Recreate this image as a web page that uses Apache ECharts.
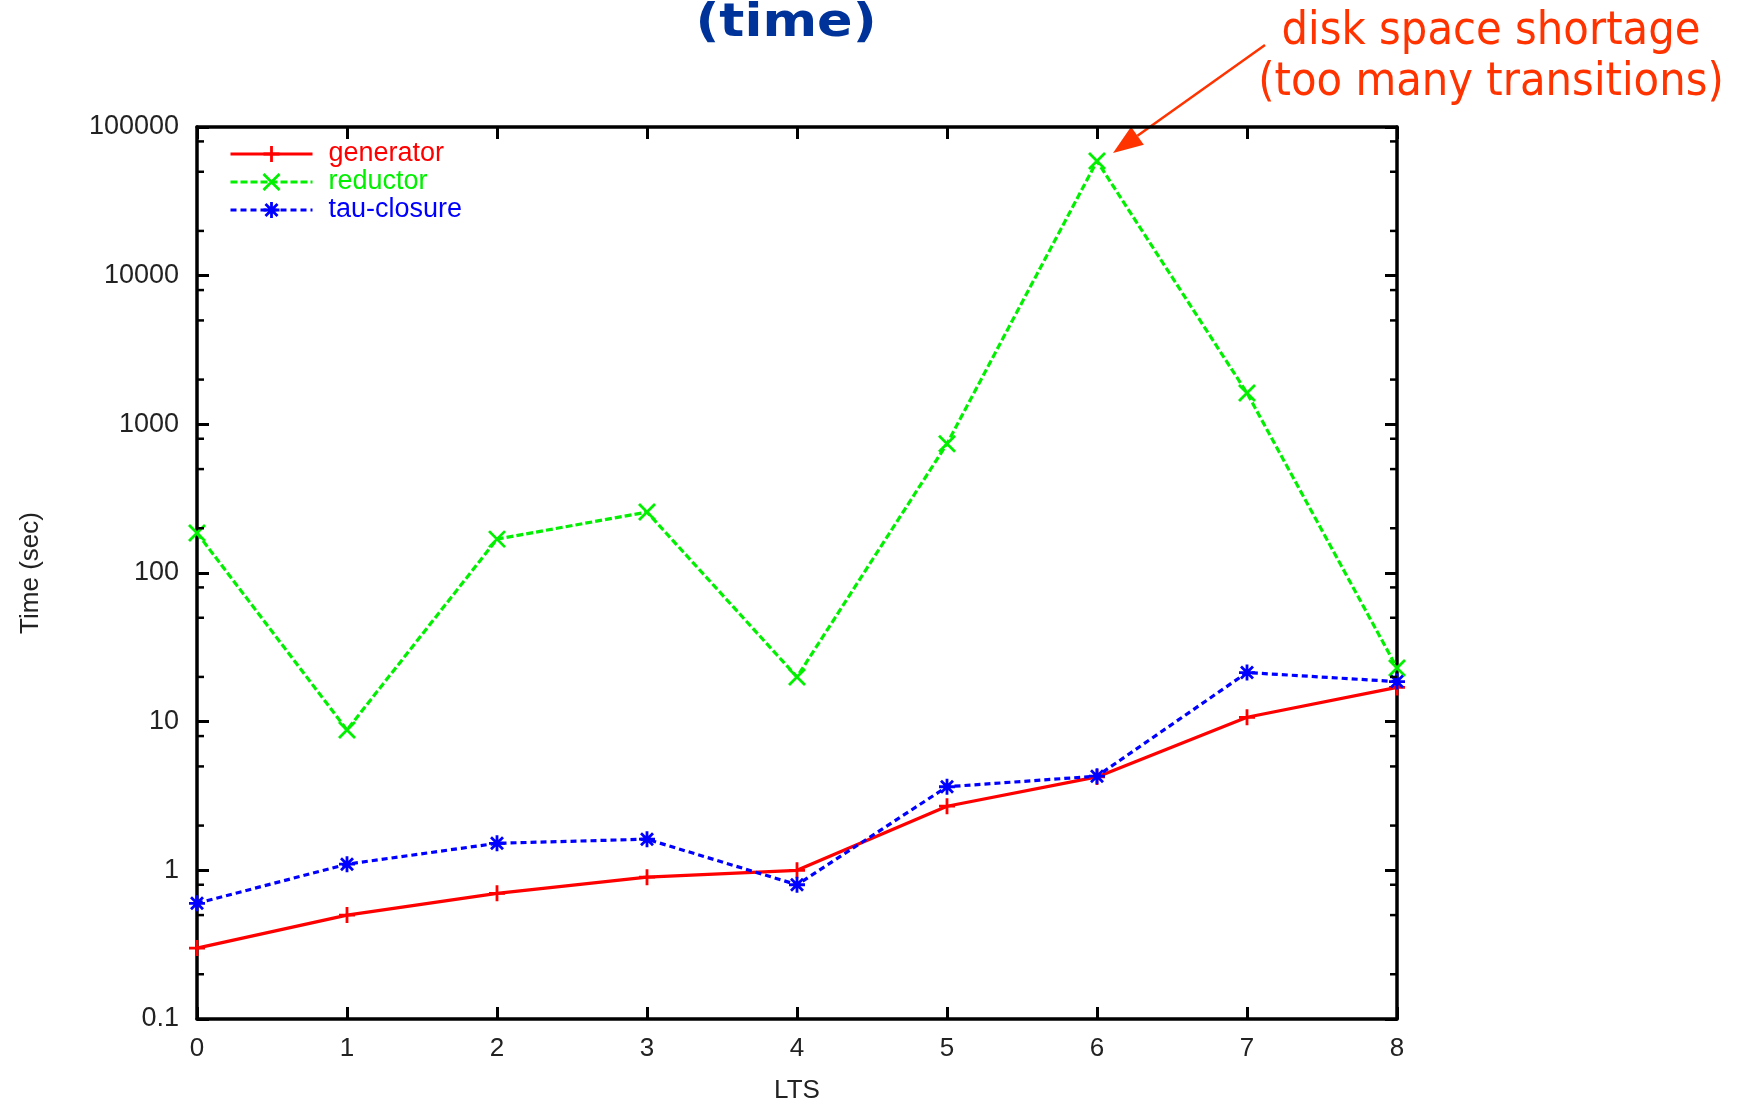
<!DOCTYPE html>
<html>
<head>
<meta charset="utf-8">
<script src="https://cdn.jsdelivr.net/npm/echarts/dist/echarts.min.js"></script>
<style>
  html, body { margin: 0; padding: 0; background: #ffffff; }
  #chart { width: 1748px; height: 1104px; }
</style>
</head>
<body>
<div id="chart"></div>
<script>
// LTS index on the x axis
const ltsValues = [0, 1, 2, 3, 4, 5, 6, 7, 8];
const xTickLabels = ['0', '1', '2', '3', '4', '5', '6', '7', '8'];

// Running times in seconds
const generatorTimes  = [0.3, 0.5, 0.7, 0.9, 1.0, 2.7, 4.25, 10.7, 17];
const reductorTimes   = [186, 8.8, 169, 257, 20, 740, 59000, 1625, 23];
const tauClosureTimes = [0.6, 1.1, 1.52, 1.62, 0.8, 3.65, 4.3, 21.4, 18.6];

// Log axis decades and the minor tick marks inside each decade
const yTickLabels = ['0.1', '1', '10', '100', '1000', '10000', '100000'];
const minorTickValues = [0.2, 0.5, 0.8, 2, 5, 8, 20, 50, 80, 200, 500, 800,
                         2000, 5000, 8000, 20000, 50000, 80000];

const seriesNames = ['generator', 'reductor', 'tau-closure'];
const seriesColors = ['#ff0000', '#00f000', '#0000ff'];

const plusSymbol = 'path://M0,6L12,6M6,0L6,12';
const crossSymbol = 'path://M0,0L12,12M12,0L0,12';
const starSymbol = 'path://M0,6L12,6M6,0L6,12M1.5,1.5L10.5,10.5M10.5,1.5L1.5,10.5';

const labelFont = 'Liberation Sans, Arial, sans-serif';
const xMin = ltsValues[0];
const xMax = ltsValues[ltsValues.length - 1];

function pairs(values) {
  return ltsValues.map((x, i) => [x, values[i]]);
}

function lineSeries(name, values, color, symbol, dash) {
  return {
    name: name,
    type: 'line',
    data: pairs(values),
    symbol: symbol,
    symbolSize: 16,
    showAllSymbol: true,
    lineStyle: { color: color, width: 3.2, type: dash },
    itemStyle: { color: color, borderColor: color, borderWidth: 2.8 },
    emphasis: { disabled: true },
    animation: false,
    z: 3
  };
}

const axisLineX = { show: true, lineStyle: { color: '#000', width: 3.5 } };
const axisLineY = { show: true, onZero: false, lineStyle: { color: '#000', width: 3.5 } };
const majorTick = { show: true, inside: true, length: 12, lineStyle: { color: '#000', width: 3 } };

const chart = echarts.init(document.getElementById('chart'), null, { renderer: 'canvas' });

const option = {
  backgroundColor: '#ffffff',
  animation: false,
  grid: { left: 197, right: 351, top: 127, bottom: 85, containLabel: false, outerBoundsMode: 'none' },
  legend: {
    orient: 'vertical',
    left: 229,
    top: 140,
    padding: 0,
    itemWidth: 82,
    itemHeight: 20,
    itemGap: 0,
    selectedMode: false,
    lineStyle: { width: 3 },
    itemStyle: { borderWidth: 2.8 },
    textStyle: { fontFamily: labelFont, fontSize: 27, lineHeight: 28, padding: [0, 0, 0, 11] },
    data: seriesNames.map((n, i) => ({ name: n, textStyle: { color: seriesColors[i] } }))
  },
  xAxis: [
    {
      type: 'value', min: xMin, max: xMax, interval: 1, position: 'bottom',
      name: 'LTS', nameLocation: 'middle', nameGap: 59,
      nameTextStyle: { fontFamily: labelFont, fontSize: 26, color: '#222' },
      axisLine: axisLineX, axisTick: majorTick, splitLine: { show: false },
      axisLabel: {
        margin: 17, fontFamily: labelFont, fontSize: 26, color: '#222',
        formatter: v => xTickLabels[Math.round(v - xMin)]
      }
    },
    {
      type: 'value', min: xMin, max: xMax, interval: 1, position: 'top',
      axisLine: axisLineX, axisTick: majorTick, splitLine: { show: false },
      axisLabel: { show: false }
    }
  ],
  yAxis: [
    {
      type: 'log', logBase: 10, min: 0.1, max: 100000, interval: 1, position: 'left',
      name: 'Time (sec)', nameLocation: 'middle', nameGap: 153,
      nameTextStyle: { fontFamily: labelFont, fontSize: 26, color: '#222' },
      axisLine: axisLineY, axisTick: majorTick, splitLine: { show: false },
      axisLabel: {
        margin: 18, fontFamily: labelFont, fontSize: 27, color: '#222',
        formatter: v => yTickLabels[Math.round(Math.log10(v)) + 1]
      }
    },
    {
      type: 'log', logBase: 10, min: 0.1, max: 100000, interval: 1, position: 'right',
      axisLine: axisLineY, axisTick: majorTick, splitLine: { show: false },
      axisLabel: { show: false }
    }
  ],
  series: [
    lineSeries(seriesNames[0], generatorTimes, seriesColors[0], plusSymbol, 'solid'),
    lineSeries(seriesNames[1], reductorTimes, seriesColors[1], crossSymbol, [7, 3]),
    lineSeries(seriesNames[2], tauClosureTimes, seriesColors[2], starSymbol, [6, 4]),
    {
      // short minor ticks on both vertical sides of the frame
      name: 'minor ticks',
      type: 'custom',
      xAxisIndex: 1,
      yAxisIndex: 1,
      silent: true,
      clip: false,
      data: minorTickValues.map(v => [xMin, v]),
      renderItem: function (params, api) {
        const v = api.value(1);
        const l = api.coord([xMin, v]);
        const r = api.coord([xMax, v]);
        const st = { stroke: '#000', lineWidth: 2.5 };
        return {
          type: 'group',
          children: [
            { type: 'line', shape: { x1: l[0], y1: l[1], x2: l[0] + 7, y2: l[1] }, style: st },
            { type: 'line', shape: { x1: r[0], y1: r[1], x2: r[0] - 7, y2: r[1] }, style: st }
          ]
        };
      },
      z: 4
    }
  ]
};

chart.setOption(option);

// Annotation arrow pointing at the reductor peak
const peakIndex = reductorTimes.indexOf(Math.max.apply(null, reductorTimes));
const peak = chart.convertToPixel({ xAxisIndex: 0, yAxisIndex: 0 }, [ltsValues[peakIndex], reductorTimes[peakIndex]]);
const tip = [peak[0] + 16, peak[1] - 8];
const tail = [tip[0] + 152, tip[1] - 108];
const len = Math.hypot(tail[0] - tip[0], tail[1] - tip[1]);
const ux = (tail[0] - tip[0]) / len, uy = (tail[1] - tip[1]) / len;
const headLen = 30, headHalf = 11;
const base = [tip[0] + ux * headLen, tip[1] + uy * headLen];
const annColor = '#ff3300';

chart.setOption({
  graphic: [
    {
      type: 'text', x: 786, y: 47, scaleX: 1.14,
      style: {
        text: '(time)', fill: '#003399', align: 'center', verticalAlign: 'bottom',
        font: 'bold 46px "DejaVu Sans", sans-serif'
      }
    },
    {
      type: 'text', x: 1491, y: 55, scaleX: 0.89,
      style: {
        text: 'disk space shortage', fill: annColor, align: 'center', verticalAlign: 'bottom',
        font: '47px "DejaVu Sans", sans-serif'
      }
    },
    {
      type: 'text', x: 1491, y: 106, scaleX: 0.89,
      style: {
        text: '(too many transitions)', fill: annColor, align: 'center', verticalAlign: 'bottom',
        font: '47px "DejaVu Sans", sans-serif'
      }
    },
    {
      type: 'line',
      shape: { x1: base[0], y1: base[1], x2: tail[0], y2: tail[1] },
      style: { stroke: annColor, lineWidth: 2.5 }
    },
    {
      type: 'polygon',
      shape: {
        points: [
          tip,
          [base[0] - uy * headHalf, base[1] + ux * headHalf],
          [base[0] + uy * headHalf, base[1] - ux * headHalf]
        ]
      },
      style: { fill: annColor }
    }
  ]
});
</script>
</body>
</html>
